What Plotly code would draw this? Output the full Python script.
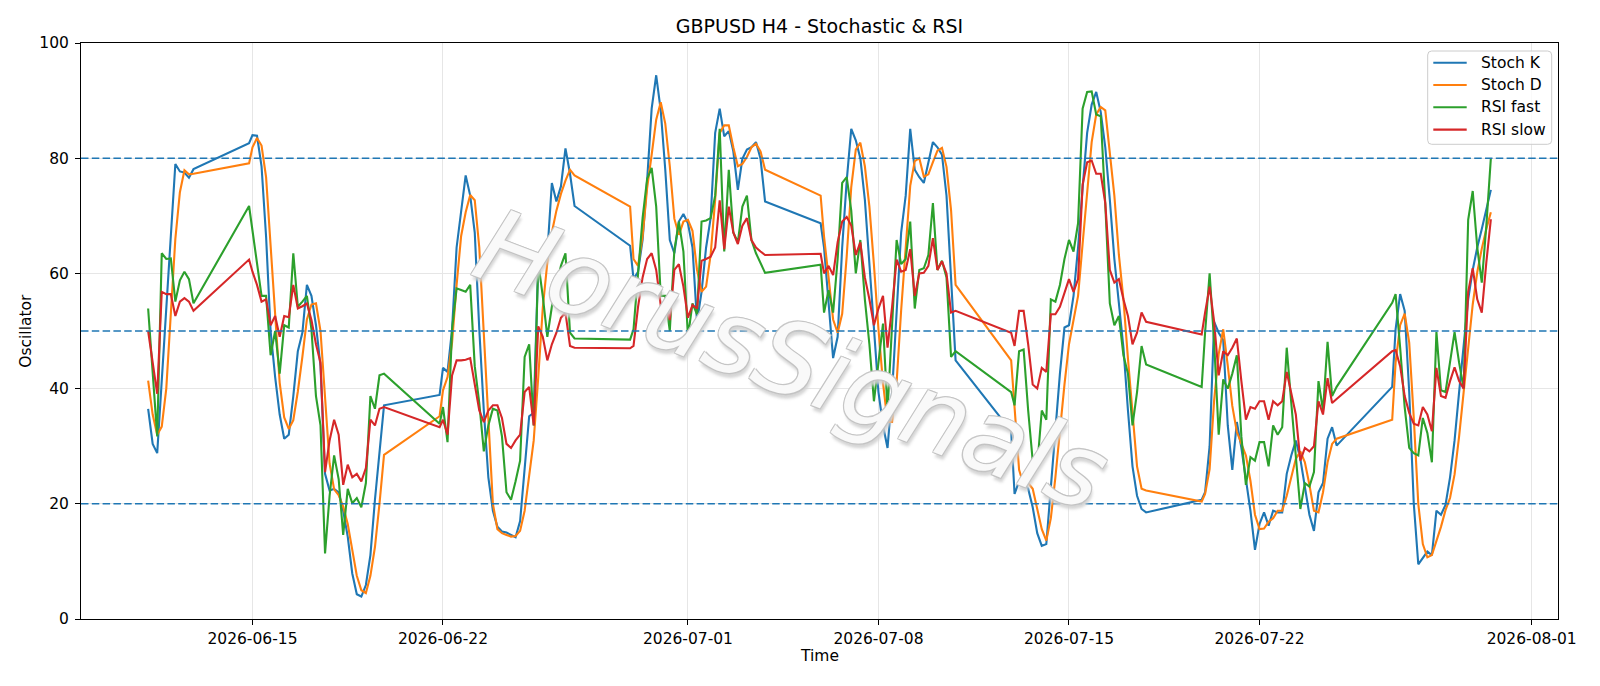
import plotly.graph_objects as go

# ---- bar schedule (H4 bars, weekdays + Sunday open bar) ----
bar_schedule = [
    ("2026-06-11", [4, 8, 12, 16, 20]),
    ("2026-06-12", [0, 4, 8, 12, 16, 20]),
    ("2026-06-14", [21]),
    ("2026-06-15", [0, 4, 8, 12, 16, 20]),
    ("2026-06-16", [0, 4, 8, 12, 16, 20]),
    ("2026-06-17", [0, 4, 8, 12, 16, 20]),
    ("2026-06-18", [0, 4, 8, 12, 16, 20]),
    ("2026-06-19", [0, 4, 8, 12, 16, 20]),
    ("2026-06-21", [21]),
    ("2026-06-22", [0, 4, 8, 12, 16, 20]),
    ("2026-06-23", [0, 4, 8, 12, 16, 20]),
    ("2026-06-24", [0, 4, 8, 12, 16, 20]),
    ("2026-06-25", [0, 4, 8, 12, 16, 20]),
    ("2026-06-26", [0, 4, 8, 12, 16, 20]),
    ("2026-06-28", [21]),
    ("2026-06-29", [0, 4, 8, 12, 16, 20]),
    ("2026-06-30", [0, 4, 8, 12, 16, 20]),
    ("2026-07-01", [0, 4, 8, 12, 16, 20]),
    ("2026-07-02", [0, 4, 8, 12, 16, 20]),
    ("2026-07-03", [0, 4, 8, 12, 16, 20]),
    ("2026-07-05", [21]),
    ("2026-07-06", [0, 4, 8, 12, 16, 20]),
    ("2026-07-07", [0, 4, 8, 12, 16, 20]),
    ("2026-07-08", [0, 4, 8, 12, 16, 20]),
    ("2026-07-09", [0, 4, 8, 12, 16, 20]),
    ("2026-07-10", [0, 4, 8, 12, 16, 20]),
    ("2026-07-12", [21]),
    ("2026-07-13", [0, 4, 8, 12, 16, 20]),
    ("2026-07-14", [0, 4, 8, 12, 16, 20]),
    ("2026-07-15", [0, 4, 8, 12, 16, 20]),
    ("2026-07-16", [0, 4, 8, 12, 16, 20]),
    ("2026-07-17", [0, 4, 8, 12, 16, 20]),
    ("2026-07-19", [21]),
    ("2026-07-20", [0, 4, 8, 12, 16, 20]),
    ("2026-07-21", [0, 4, 8, 12, 16, 20]),
    ("2026-07-22", [0, 4, 8, 12, 16, 20]),
    ("2026-07-23", [0, 4, 8, 12, 16, 20]),
    ("2026-07-24", [0, 4, 8, 12, 16, 20]),
    ("2026-07-26", [21]),
    ("2026-07-27", [0, 4, 8, 12, 16, 20]),
    ("2026-07-28", [0, 4, 8, 12, 16, 20]),
    ("2026-07-29", [0, 4, 8, 12, 16, 20]),
    ("2026-07-30", [0, 4, 8, 12]),
]
times = [f"{d} {h:02d}:00" for d, hs in bar_schedule for h in hs]

stoch_k = [
    36.5, 30.4, 28.8, 41.6, 54.3,
    67.0, 79.0, 77.7, 77.5, 76.6, 78.1,
    82.6,
    84.0, 83.9, 78.6, 66.4, 50.0, 42.0,
    35.5, 31.3, 32.0, 38.7, 46.5, 49.7,
    58.0, 56.1, 51.0, 43.9, 25.2, 22.3,
    22.6, 22.0, 18.8, 14.3, 7.9, 4.3,
    3.9, 5.9, 11.1, 20.7, 29.1, 37.1,
    38.9,
    43.6, 42.9, 50.3, 64.5, 70.3, 77.0,
    73.5, 67.1, 50.3, 36.2, 24.6, 18.8,
    16.0, 15.2, 15.0, 14.6, 14.2, 17.0,
    26.5, 35.2, 35.8, 62.0, 62.5, 63.5,
    75.7, 72.5, 75.1, 81.7, 77.3, 71.7,
    64.8,
    59.0, 60.3, 65.8, 76.1, 88.6, 94.4,
    88.3, 78.0, 65.8, 63.5, 69.0, 70.3,
    68.7, 64.5, 51.6, 56.8, 64.5, 69.6,
    84.4, 88.6, 83.8, 84.7, 81.2, 74.5,
    79.9, 81.5, 81.9, 82.8, 79.9, 72.5,
    68.7,
    64.5, 55.5, 45.3, 49.0, 64.5, 76.1,
    85.1, 83.1, 80.0, 72.8, 61.9, 49.7,
    39.4, 33.6, 29.7, 39.4, 54.2, 67.1,
    73.5, 85.1, 78.0, 76.7, 75.7, 79.3,
    82.8, 81.9, 80.6, 73.5, 58.7, 44.9,
    32.6,
    21.7, 23.9, 23.6, 22.6, 19.4, 14.9,
    12.7, 13.0, 22.6, 33.6, 42.6, 50.6,
    51.0, 56.1, 64.5, 74.8, 84.4, 89.3,
    91.5, 88.0, 81.9, 72.8, 62.5, 54.8,
    47.1, 36.2, 26.5, 21.4, 19.1, 18.5,
    20.7,
    22.0, 30.0, 51.6, 49.7, 48.4, 33.6,
    25.9, 34.2, 29.7, 24.6, 18.8, 12.0,
    16.5, 18.5, 16.2, 18.8, 18.5, 18.5,
    25.2, 28.4, 31.0, 27.8, 23.3, 18.1,
    15.3, 22.0, 23.6, 31.3, 33.3, 30.1,
    40.3,
    50.3, 56.4, 53.5, 39.4, 20.1, 9.5,
    10.7, 11.7, 11.1, 18.8, 18.1, 19.8,
    24.6, 31.0, 39.4, 47.7, 55.5, 60.6,
    64.5, 67.7, 70.9, 74.5,
]

stoch_d = [
    41.4, 35.5, 32.0, 33.4, 40.0,
    53.0, 66.0, 74.1, 77.9, 77.2, 77.3,
    79.1,
    81.9, 83.5, 82.2, 76.7, 64.5, 51.5,
    41.0, 35.0, 33.0, 34.5, 39.5, 45.5,
    52.0, 54.6, 54.8, 50.0, 38.0, 27.0,
    22.5, 21.5, 19.5, 16.5, 12.0, 7.5,
    5.0, 4.5, 7.5, 12.5, 20.0, 28.5,
    35.2,
    39.7, 42.0, 48.0, 58.0, 66.5, 70.6,
    73.6, 72.7, 64.5, 49.5, 33.6, 20.0,
    15.6, 14.9, 14.6, 14.3, 14.4, 15.3,
    18.8, 24.6, 31.0, 42.0, 54.0, 61.9,
    67.1, 70.9, 73.8, 76.1, 78.0, 77.0,
    71.6,
    62.5, 61.3, 66.4, 74.8, 80.6, 86.7,
    89.7, 86.0, 78.6, 69.5, 66.7, 69.0,
    69.3, 67.4, 60.6, 56.8, 57.7, 63.2,
    72.8, 84.4, 85.7, 85.7, 81.9, 78.6,
    79.0, 80.2, 81.9, 82.5, 81.2, 78.0,
    73.5,
    66.4, 59.3, 52.0, 49.7, 53.0, 63.0,
    75.0, 81.5, 82.7, 78.6, 71.6, 61.5,
    50.3, 41.0, 34.2, 34.2, 41.1, 53.6,
    64.9, 75.2, 79.5, 80.0, 76.8, 77.2,
    79.3, 81.3, 81.8, 78.5, 71.0, 58.0,
    44.9,
    36.2, 25.9, 23.3, 23.6, 22.6, 18.8,
    15.6, 13.6, 17.5, 24.6, 32.9, 40.7,
    47.7, 51.6, 56.1, 65.1, 74.6, 82.8,
    87.6, 88.9, 88.3, 81.2, 73.5, 63.2,
    55.5, 45.2, 35.5, 26.5, 22.6, 22.3,
    20.4,
    21.7, 26.0, 38.0, 46.0, 50.3, 44.0,
    37.0, 32.5, 30.4, 28.4, 24.0, 18.1,
    15.6, 15.7, 16.9, 17.5, 18.8, 18.8,
    21.4, 24.6, 27.8, 29.1, 27.2, 23.3,
    18.8, 18.5, 22.0, 27.2, 30.4, 31.3,
    34.6,
    44.5, 51.0, 53.0, 48.0, 35.0, 20.0,
    13.0, 10.7, 11.1, 13.5, 16.0, 18.9,
    21.0, 25.1, 31.7, 39.4, 47.5, 54.6,
    60.2, 64.3, 67.7, 70.6,
]

rsi_fast = [
    53.9, 42.6, 31.7, 63.5, 62.5,
    62.6, 55.1, 58.8, 60.3, 59.0, 54.8,
    71.7,
    67.4, 61.9, 56.1, 56.1, 45.8, 50.0,
    42.6, 51.0, 50.6, 63.5, 54.2, 55.1,
    56.1, 50.3, 38.7, 33.6, 11.4, 21.4,
    28.4, 24.3, 14.6, 22.6, 20.1, 21.0,
    19.4, 23.6, 38.7, 36.5, 42.3, 42.6,
    33.9,
    36.8, 30.7, 50.3, 57.4, 57.1, 56.8,
    58.0, 43.9, 37.5, 29.1, 33.6, 36.5,
    36.2, 31.7, 22.0, 20.7, 23.9, 27.5,
    45.5, 47.7, 33.6, 61.9, 56.0, 49.0,
    54.2, 58.0, 61.3, 63.5, 49.7, 48.7,
    48.5,
    50.3, 60.6, 69.6, 76.4, 78.3, 71.6,
    56.1, 56.1, 50.0, 64.0, 69.0, 63.8,
    49.0, 54.8, 52.9, 69.0, 69.2, 69.6,
    73.5, 85.1, 63.8, 78.0, 67.1, 65.4,
    71.6, 73.5, 65.8, 63.5, 61.9, 60.1,
    61.5,
    53.2, 57.1, 53.2, 62.5, 75.7, 76.7,
    70.9, 60.0, 65.8, 55.5, 47.7, 37.8,
    44.5, 51.3, 36.2, 51.6, 65.8, 61.6,
    62.5, 69.0, 53.9, 60.6, 60.9, 63.2,
    72.2, 60.6, 62.2, 59.3, 45.5, 46.5,
    39.4,
    37.1, 46.5, 46.8, 36.2, 27.5, 26.5,
    36.2, 34.6, 55.5, 55.1, 58.0, 62.5,
    65.8, 63.8, 68.7, 88.6, 91.5, 91.6,
    87.6, 87.3, 72.0, 54.8, 51.0, 52.6,
    45.8, 42.6, 33.6, 39.4, 47.4, 44.2,
    40.3,
    49.7, 60.0, 48.0, 32.0, 41.6, 40.0,
    42.6, 45.8, 31.7, 23.3, 28.1, 27.5,
    30.7, 30.7, 26.5, 33.6, 32.0, 33.3,
    47.1, 37.5, 28.4, 19.1, 23.6, 23.0,
    25.5, 41.3, 36.2, 48.1, 38.7, 40.3,
    54.9,
    56.4, 47.1, 36.8, 29.7, 28.8, 28.4,
    34.9, 32.3, 27.2, 49.8, 39.7, 39.4,
    44.5, 49.8, 44.5, 40.0, 69.3, 74.3,
    64.5, 58.4, 68.3, 80.0,
]

rsi_slow = [
    50.0, 44.5, 39.1, 56.8, 56.4,
    56.4, 52.6, 55.1, 55.7, 55.1, 53.5,
    62.4,
    60.3, 58.0, 55.1, 55.5, 51.0, 52.6,
    49.0, 52.6, 52.4, 58.0, 53.9, 54.3,
    54.8, 51.9, 47.7, 44.5, 25.5, 31.0,
    34.6, 32.0, 23.3, 26.8, 24.6, 25.2,
    23.9, 26.2, 34.6, 33.6, 36.5, 36.8,
    33.3,
    34.6, 32.0, 42.3, 44.9, 44.9, 45.0,
    45.3, 40.7, 36.2, 34.2, 36.2, 37.1,
    37.1, 34.9, 30.4, 29.7, 31.0, 32.0,
    39.4, 40.3, 33.6, 50.8, 49.0, 44.9,
    47.7, 49.7, 52.3, 53.2, 47.4, 47.1,
    47.0,
    47.4, 54.2, 59.3, 62.5, 63.5, 60.6,
    54.5, 54.5, 51.9, 60.6, 61.6, 57.7,
    52.3, 54.5, 53.9, 62.2, 62.5, 62.9,
    64.5, 72.7, 64.2, 71.6, 67.1, 65.1,
    68.3, 69.6, 65.8, 64.5, 63.8, 63.2,
    63.4,
    60.0, 61.3, 59.7, 65.4, 69.0, 69.8,
    68.3, 63.2, 65.4, 59.3, 55.5, 51.0,
    53.9, 56.1, 47.1, 54.2, 62.4, 60.3,
    60.6, 64.2, 56.1, 60.0, 60.1, 61.3,
    66.1, 60.6, 62.1, 60.0, 53.2, 53.5,
    49.7,
    47.4, 53.5, 53.5, 47.7, 40.7, 40.0,
    43.6, 42.9, 52.9, 52.9, 54.2, 56.8,
    59.0, 56.8, 59.0, 75.4, 79.3, 79.6,
    77.3, 77.3, 72.2, 60.6, 58.4, 59.0,
    55.5, 52.6, 47.7, 49.7, 53.2, 51.6,
    49.4,
    53.2, 57.7, 51.6, 42.3, 46.5, 45.8,
    47.1, 48.7, 41.3, 34.6, 36.8, 36.5,
    37.8, 37.8, 34.6, 37.8, 37.1, 37.8,
    42.9, 39.1, 35.5, 27.5, 29.7, 29.1,
    30.0, 37.8, 35.5, 41.8, 37.5, 38.2,
    46.5,
    46.7, 43.9, 38.7, 35.8, 33.9, 33.6,
    36.8, 35.5, 32.6, 43.6, 38.7, 38.4,
    41.3, 43.7, 41.3, 40.0, 56.8, 60.9,
    55.5, 53.2, 61.9, 69.4,
]

series_names = ["Stoch K", "Stoch D", "RSI fast", "RSI slow"]
series_colors = ["#1f77b4", "#ff7f0e", "#2ca02c", "#d62728"]
level_lines = [80, 50, 20]
x_tick_dates = ["2026-06-15", "2026-06-22", "2026-07-01", "2026-07-08",
                "2026-07-15", "2026-07-22", "2026-08-01"]
y_ticks = [0, 20, 40, 60, 80, 100]
x_range = ["2026-06-08 16:48", "2026-08-01 23:12"]

FS = 15.5
W, H = 1600, 686
ML, MR, MT, MB = 81, 42, 43, 67
PW, PH = W - ML - MR, H - MT - MB


def px_x(px):  # pixel -> paper x
    return (px - ML) / PW


def px_y(py):  # pixel -> paper y
    return (H - MB - py) / PH


fig = go.Figure()
for name, vals, col in zip(series_names, [stoch_k, stoch_d, rsi_fast, rsi_slow], series_colors):
    fig.add_trace(go.Scatter(x=times, y=vals, mode="lines", name=name,
                             line=dict(color=col, width=2.1), showlegend=False))

for lv in level_lines:
    fig.add_shape(type="line", xref="paper", x0=0, x1=1, yref="y", y0=lv, y1=lv,
                  line=dict(color="#1f77b4", width=1.6, dash="7.5px,3.3px"), layer="above")

# watermark
fig.add_annotation(text="HorusSignals", xref="paper", yref="paper", x=0.481, y=0.45,
                   showarrow=False, textangle=21,
                   font=dict(family="DejaVu Sans", size=102, color="rgba(255,255,255,0.9)",
                             style="italic",
                             shadow="-1px -1px 0 #c2c2c2, 1px -1px 0 #c2c2c2, -1px 1px 0 #c2c2c2, 1px 1px 0 #c2c2c2, 3px 4px 3px #d0d0d0"))

# legend (drawn as a box with line samples and labels)
lx0, lx1, ly0, ly1, r = 1427.7, 1551.7, 51.0, 144.3, 4.0
box_path = (
    f"M {px_x(lx0 + r)},{px_y(ly0)} L {px_x(lx1 - r)},{px_y(ly0)} "
    f"Q {px_x(lx1)},{px_y(ly0)} {px_x(lx1)},{px_y(ly0 + r)} "
    f"L {px_x(lx1)},{px_y(ly1 - r)} Q {px_x(lx1)},{px_y(ly1)} {px_x(lx1 - r)},{px_y(ly1)} "
    f"L {px_x(lx0 + r)},{px_y(ly1)} Q {px_x(lx0)},{px_y(ly1)} {px_x(lx0)},{px_y(ly1 - r)} "
    f"L {px_x(lx0)},{px_y(ly0 + r)} Q {px_x(lx0)},{px_y(ly0)} {px_x(lx0 + r)},{px_y(ly0)} Z"
)
fig.add_shape(type="path", path=box_path, xref="paper", yref="paper",
              fillcolor="rgba(255,255,255,0.8)", line=dict(color="#cccccc", width=1),
              layer="above")
for i, (name, col) in enumerate(zip(series_names, series_colors)):
    yy = 62.7 + 22.3 * i
    fig.add_shape(type="line", xref="paper", yref="paper",
                  x0=px_x(1433.3), x1=px_x(1466.7), y0=px_y(yy), y1=px_y(yy),
                  line=dict(color=col, width=2.1), layer="above")
    fig.add_annotation(text=name, xref="paper", yref="paper", x=px_x(1479), y=px_y(yy),
                       xanchor="left", yanchor="middle", showarrow=False,
                       font=dict(size=FS, color="black"))

fig.add_annotation(text="Time", xref="paper", yref="paper", x=0.5, y=-0.064,
                   showarrow=False, yanchor="middle", font=dict(size=FS, color="black"))
fig.add_annotation(text="Oscillator", xref="paper", yref="paper", x=-0.0374, y=0.5,
                   showarrow=False, textangle=-90, xanchor="center", yanchor="middle",
                   font=dict(size=FS, color="black"))

axis_common = dict(showline=True, linecolor="black", linewidth=1, mirror=True,
                   ticks="outside", ticklen=5, tickwidth=1, tickcolor="black",
                   showgrid=True, gridcolor="#e6e6e6", gridwidth=1, zeroline=False,
                   tickfont=dict(size=FS, color="black"))

fig.update_layout(
    width=W, height=H,
    margin=dict(l=ML, r=MR, t=MT, b=MB),
    paper_bgcolor="white", plot_bgcolor="white",
    font=dict(family="DejaVu Sans", size=FS, color="black"),
    title=dict(text="GBPUSD H4 - Stochastic & RSI", xref="paper", x=0.5, xanchor="center",
               yref="container", y=1 - 26.5 / 686, yanchor="middle",
               font=dict(size=19, color="black")),
    xaxis=dict(type="date", range=x_range, tickvals=x_tick_dates, ticktext=x_tick_dates,
               **axis_common),
    yaxis=dict(range=[0, 100], tickvals=y_ticks, ticklabelstandoff=3, **axis_common),
    showlegend=False,
)

fig.write_html("out.html")
